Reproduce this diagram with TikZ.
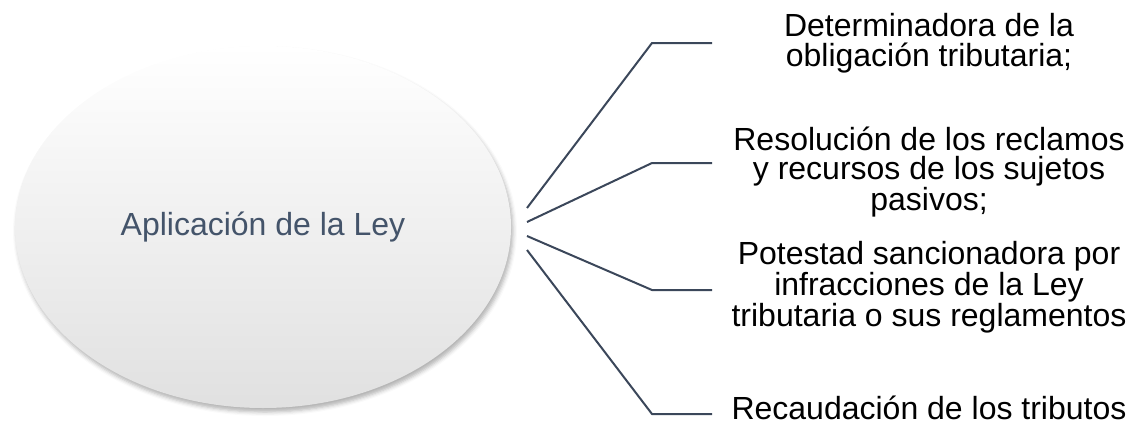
\documentclass[tikz,border=0pt]{standalone}
\usepackage{fontspec}
\setmainfont{Liberation Sans}
\usetikzlibrary{shapes.geometric,shadows.blur}
\definecolor{slateline}{RGB}{59,71,90}
\definecolor{slatetext}{RGB}{68,84,106}
\begin{document}
\begin{tikzpicture}[x=0.75pt, y=-0.75pt]
    % Define styles
    \tikzset{
        mainellipse/.style={ellipse, minimum width=372pt, minimum height=271.5pt, top color=white, middle color=white, bottom color=black!12, blur shadow={shadow xshift=1.5pt, shadow yshift=-3pt, shadow blur radius=3pt, shadow opacity=30}, text=slatetext, font=\fontsize{24}{26}\selectfont},
        itemtext/.style={align=center, inner sep=0pt, font=\fontsize{24}{22.2}\selectfont},
        branch/.style={draw=slateline, line width=1.5pt}
    }
    \useasboundingbox (0,0) rectangle (1128,425);

    % Central ellipse
    \node[mainellipse] (ley) at (263,227) {Aplicación de la Ley};

    % Items
    \node[itemtext] (det) at (929,43) {Determinadora de la\\obligación tributaria;};
    \node[itemtext] (res) at (929,172) {Resolución de los reclamos\\y recursos de los sujetos\\pasivos;};
    \node[itemtext] (pot) at (929,287) {Potestad sancionadora por\\infracciones de la Ley\\tributaria o sus reglamentos};
    \node[itemtext] (rec) at (929,408) {Recaudación de los tributos};

    % Connector points
    \coordinate (s1) at (527,208);
    \coordinate (s2) at (527,222);
    \coordinate (s3) at (527,236);
    \coordinate (s4) at (527,250);
    \coordinate (k1) at (652,43);
    \coordinate (k2) at (652,163);
    \coordinate (k3) at (652,290);
    \coordinate (k4) at (652,414);
    \coordinate (e1) at (712,43);
    \coordinate (e2) at (712,163);
    \coordinate (e3) at (712,290);
    \coordinate (e4) at (712,414);

    % Connectors
    \draw[branch] (s1) -- (k1) -- (e1);
    \draw[branch] (s2) -- (k2) -- (e2);
    \draw[branch] (s3) -- (k3) -- (e3);
    \draw[branch] (s4) -- (k4) -- (e4);
\end{tikzpicture}
\end{document}
